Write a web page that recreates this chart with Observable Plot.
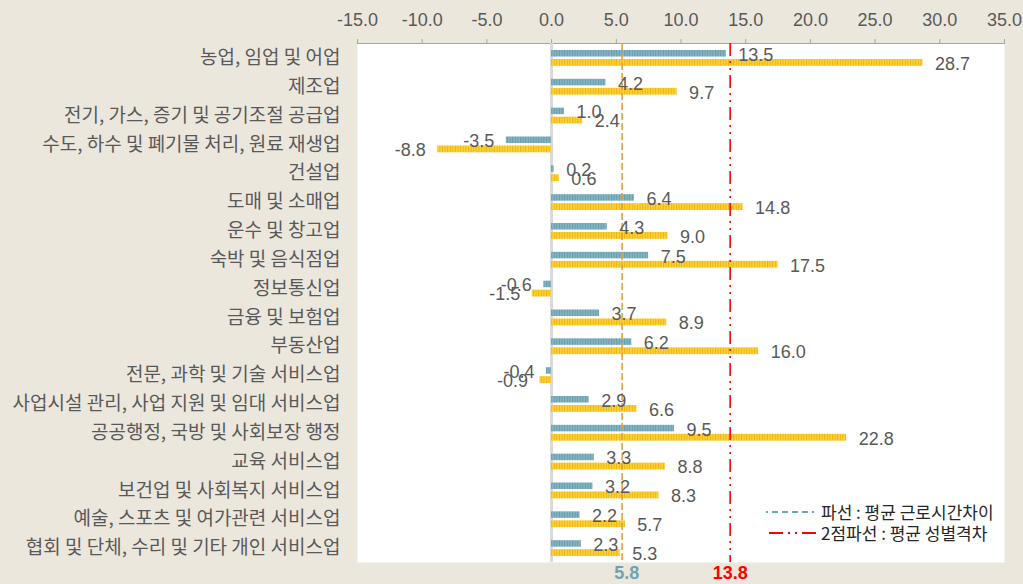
<!DOCTYPE html>
<html>
<head>
<meta charset="utf-8">
<script src="https://cdn.jsdelivr.net/npm/d3@7"></script>
<script src="https://cdn.jsdelivr.net/npm/@observablehq/plot@0.6"></script>
<style>
  html, body { margin: 0; padding: 0; background: #EBE7DD; }
  #wrap { position: relative; width: 1023px; height: 584px; overflow: hidden; }
  #legend { position: absolute; left: 766px; top: 501px; font-family: "Noto Sans CJK KR", sans-serif; font-size: 17px; color: #262626; line-height: 21px; }
  #legend .row { display: flex; align-items: center; height: 21px; }
  #legend svg { display: block; margin-right: 3px; }
</style>
</head>
<body>
<svg width="0" height="0" style="position:absolute">
  <defs>
    <pattern id="blueStripe" width="2.6" height="10" patternUnits="userSpaceOnUse">
      <rect width="2.6" height="10" fill="#84B5C3"></rect>
      <rect width="1" height="10" fill="#679CAC"></rect>
    </pattern>
    <pattern id="yellowStripe" width="2.6" height="10" patternUnits="userSpaceOnUse">
      <rect width="2.6" height="10" fill="#FFD23A"></rect>
      <rect width="1" height="10" fill="#EDB50A"></rect>
    </pattern>
  </defs>
</svg>
<div id="wrap">
  <div id="chart"></div>
  <div id="legend">
    <div class="row"><svg width="52" height="6"><line x1="0" y1="3" x2="52" y2="3" stroke="#6FA8B8" stroke-width="2" stroke-dasharray="2,4,6,4,6,4,6,4,6,4"></line></svg><span>파선 : 평균 근로시간차이</span></div>
    <div class="row"><svg width="52" height="6"><line x1="3" y1="3" x2="50" y2="3" stroke="#FF0000" stroke-width="2" stroke-dasharray="14,5,2,5,2,5"></line></svg><span>2점파선 : 평균 성별격차</span></div>
  </div>
</div>
<script>
const categories = [
  "농업, 임업 및 어업",
  "제조업",
  "전기, 가스, 증기 및 공기조절 공급업",
  "수도, 하수 및 폐기물 처리, 원료 재생업",
  "건설업",
  "도매 및 소매업",
  "운수 및 창고업",
  "숙박 및 음식점업",
  "정보통신업",
  "금융 및 보험업",
  "부동산업",
  "전문, 과학 및 기술 서비스업",
  "사업시설 관리, 사업 지원 및 임대 서비스업",
  "공공행정, 국방 및 사회보장 행정",
  "교육 서비스업",
  "보건업 및 사회복지 서비스업",
  "예술, 스포츠 및 여가관련 서비스업",
  "협회 및 단체, 수리 및 기타 개인 서비스업"
];
const workHoursGap = [13.5, 4.2, 1.0, -3.5, 0.2, 6.4, 4.3, 7.5, -0.6, 3.7, 6.2, -0.4, 2.9, 9.5, 3.3, 3.2, 2.2, 2.3];
const genderGap    = [28.7, 9.7, 2.4, -8.8, 0.6, 14.8, 9.0, 17.5, -1.5, 8.9, 16.0, -0.9, 6.6, 22.8, 8.8, 8.3, 5.7, 5.3];
const xTicks = [-15, -10, -5, 0, 5, 10, 15, 20, 25, 30, 35];
const meanLabels = [5.8, 13.8];          // values printed under the chart
const meanLinePositions = [5.45, 13.8];  // where the reference lines are drawn

const blueRows = categories.map((c, i) => ({cat: c, v: workHoursGap[i]}));
const yellowRows = categories.map((c, i) => ({cat: c, v: genderGap[i]}));
const fmt = d => (+d).toFixed(1);
const pos = rows => rows.filter(d => d.v >= 0);
const neg = rows => rows.filter(d => d.v < 0);
const numFont = "'Liberation Sans', Arial, sans-serif";

const chart = Plot.plot({
  width: 1023,
  height: 584,
  marginLeft: 357,
  marginRight: 19,
  marginTop: 43,
  marginBottom: 22,
  style: {background: "transparent", fontFamily: "'Liberation Sans', 'Noto Sans CJK KR', sans-serif", fontSize: "18px", color: "#595959"},
  x: {domain: [-15, 35], label: null},
  y: {domain: categories, padding: 0, round: false, label: null},
  marks: [
    Plot.frame({fill: "white", stroke: null}),
    Plot.frame({anchor: "top", stroke: "#A6A6A6"}),
    Plot.axisX({anchor: "top", ticks: xTicks, tickFormat: fmt, tickSize: 5, tickPadding: 13, stroke: "#A6A6A6", fill: "#595959", label: null, fontSize: 18, fontFamily: numFont}),
    Plot.axisY({anchor: "left", tickSize: 0, tickPadding: 17, fill: "#595959", label: null, fontSize: 19, fontFamily: "'Noto Sans CJK KR', sans-serif"}),
    Plot.ruleX([0], {stroke: "#D9D9D9", strokeWidth: 3}),
    Plot.barX(blueRows, {x: "v", y: "cat", fill: "url(#blueStripe)", insetTop: 7.0, insetBottom: 15.3}),
    Plot.barX(yellowRows, {x: "v", y: "cat", fill: "url(#yellowStripe)", insetTop: 16.0, insetBottom: 6.0}),
    Plot.ruleX([meanLinePositions[0]], {stroke: "#E8A030", strokeWidth: 1.6, strokeDasharray: "7,3"}),
    Plot.ruleX([meanLinePositions[1]], {stroke: "#FF0000", strokeWidth: 1.6, strokeDasharray: "13,5,2,5,2,5"}),
    Plot.text(pos(blueRows), {x: "v", y: "cat", text: d => fmt(d.v), dy: -3, dx: 12, textAnchor: "start", fill: "#595959", fontSize: 18, fontFamily: numFont}),
    Plot.text(neg(blueRows), {x: "v", y: "cat", text: d => fmt(d.v), dy: -3, dx: -12, textAnchor: "end", fill: "#595959", fontSize: 18, fontFamily: numFont}),
    Plot.text(pos(yellowRows), {x: "v", y: "cat", text: d => fmt(d.v), dy: 6, dx: 12, textAnchor: "start", fill: "#595959", fontSize: 18, fontFamily: numFont}),
    Plot.text(neg(yellowRows), {x: "v", y: "cat", text: d => fmt(d.v), dy: 6, dx: -12, textAnchor: "end", fill: "#595959", fontSize: 18, fontFamily: numFont}),
    Plot.text([meanLabels[0]], {x: d => d, frameAnchor: "bottom", dy: 16, text: d => fmt(d), fill: "#6FA3B2", fontWeight: "bold", fontSize: 18, fontFamily: numFont}),
    Plot.text([meanLabels[1]], {x: d => d, frameAnchor: "bottom", dy: 16, text: d => fmt(d), fill: "#FF0000", fontWeight: "bold", fontSize: 18, fontFamily: numFont})
  ]
});
document.getElementById("chart").appendChild(chart);
</script>
</body>
</html>
